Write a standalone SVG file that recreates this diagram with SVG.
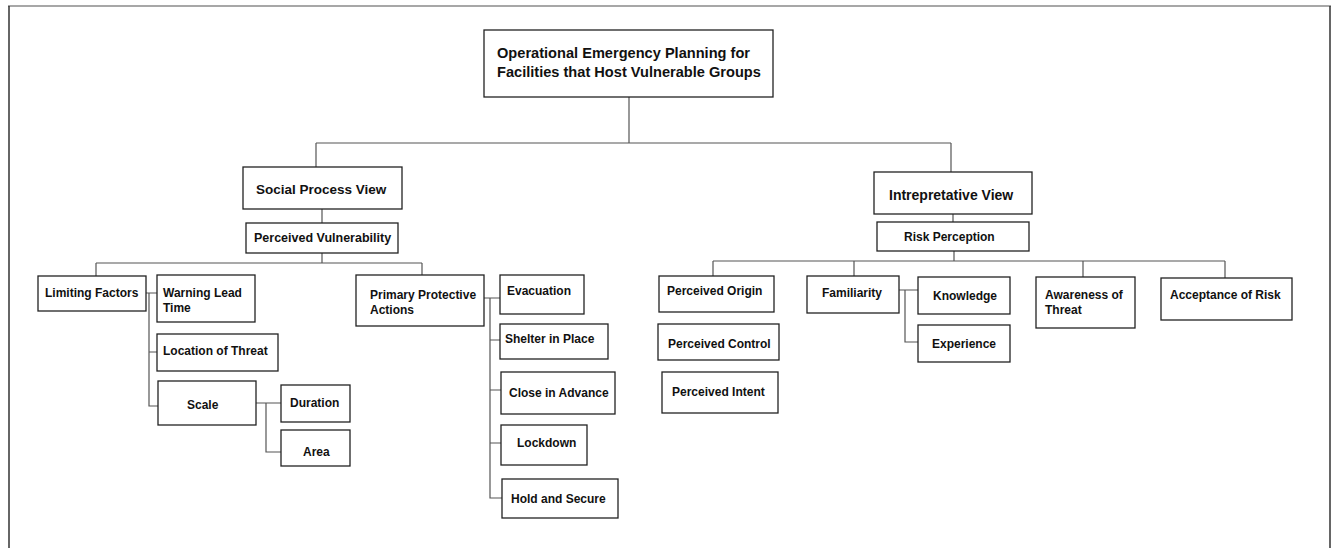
<svg xmlns="http://www.w3.org/2000/svg" width="1334" height="548" viewBox="0 0 1334 548">
  <style>
    .box { fill: #ffffff; stroke: #222222; stroke-width: 1.3; }
    .lbl { font-family: "Liberation Sans", Arial, sans-serif; font-weight: bold; font-size: 12px; fill: #111111; }
    .big { font-size: 14px; }
    .mid { font-size: 13.5px; }
    .sub { font-size: 12.5px; }
    .title { font-size: 14.6px; }
    .conn { fill: none; stroke: #555555; stroke-width: 1.2; }
  </style>
  <rect x="0" y="0" width="1334" height="548" fill="#ffffff"/>
  <!-- outer frame -->
  <g id="frame" fill="none">
    <line x1="8" y1="6" x2="1331" y2="6" stroke="#8a8a8a" stroke-width="1.5"/>
    <line x1="9" y1="6" x2="9" y2="548" stroke="#333333" stroke-width="1.5"/>
    <line x1="1330" y1="6" x2="1330" y2="548" stroke="#333333" stroke-width="1.5"/>
  </g>

  <!-- connectors -->
  <g id="connectors" class="conn">
    <path d="M629 97 V143 M316 143 H951 M316 143 V167 M951 143 V172"/>
    <path d="M322 209 V223 M322 253 V263 M96 263 H422 M96 263 V276 M422 263 V275"/>
    <path d="M146 293 H157 M149 293 V406 H158 M149 352 H157"/>
    <path d="M256 403 H281 M266 403 V452 H281"/>
    <path d="M484 298 H500 M490 298 V498 H502 M490 340 H500 M490 390 H501 M490 443 H501"/>
    <path d="M953 214 V222 M954 251 V261 M713 261 H1225 M713 261 V276 M854 261 V276 M1083 261 V277 M1225 261 V278"/>
    <path d="M899 290 H918 M905 290 V342 H918"/>
  </g>

  <g id="root">
    <rect class="box" x="484" y="30" width="289" height="67"/>
    <text class="lbl title" x="497" y="58">Operational Emergency Planning for</text>
    <text class="lbl title" x="497" y="77">Facilities that Host Vulnerable Groups</text>
  </g>

  <g id="social-process-view">
    <rect class="box" x="243" y="167" width="159" height="42"/>
    <text class="lbl mid" x="256" y="194">Social Process View</text>
  </g>
  <g id="perceived-vulnerability">
    <rect class="box" x="246" y="223" width="152" height="30"/>
    <text class="lbl sub" x="254" y="242">Perceived Vulnerability</text>
  </g>
  <g id="limiting-factors">
    <rect class="box" x="38" y="276" width="108" height="35"/>
    <text class="lbl" x="45" y="297">Limiting Factors</text>
  </g>
  <g id="warning-lead-time">
    <rect class="box" x="157" y="275" width="98" height="47"/>
    <text class="lbl" x="163" y="297">Warning Lead</text>
    <text class="lbl" x="163" y="312">Time</text>
  </g>
  <g id="location-of-threat">
    <rect class="box" x="157" y="334" width="121" height="37"/>
    <text class="lbl" x="163" y="355">Location of Threat</text>
  </g>
  <g id="scale">
    <rect class="box" x="158" y="381" width="98" height="44"/>
    <text class="lbl" x="187" y="409">Scale</text>
  </g>
  <g id="duration">
    <rect class="box" x="281" y="385" width="69" height="37"/>
    <text class="lbl" x="290" y="407">Duration</text>
  </g>
  <g id="area">
    <rect class="box" x="281" y="430" width="69" height="36"/>
    <text class="lbl" x="303" y="456">Area</text>
  </g>
  <g id="primary-protective-actions">
    <rect class="box" x="356" y="275" width="128" height="51"/>
    <text class="lbl" x="370" y="299">Primary Protective</text>
    <text class="lbl" x="370" y="314">Actions</text>
  </g>
  <g id="evacuation">
    <rect class="box" x="500" y="275" width="84" height="39"/>
    <text class="lbl" x="507" y="295">Evacuation</text>
  </g>
  <g id="shelter-in-place">
    <rect class="box" x="500" y="324" width="108" height="35"/>
    <text class="lbl" x="505" y="343">Shelter in Place</text>
  </g>
  <g id="close-in-advance">
    <rect class="box" x="501" y="372" width="114" height="42"/>
    <text class="lbl" x="509" y="397">Close in Advance</text>
  </g>
  <g id="lockdown">
    <rect class="box" x="501" y="425" width="86" height="40"/>
    <text class="lbl" x="517" y="447">Lockdown</text>
  </g>
  <g id="hold-and-secure">
    <rect class="box" x="502" y="479" width="116" height="39"/>
    <text class="lbl" x="511" y="503">Hold and Secure</text>
  </g>

  <g id="interpretative-view">
    <rect class="box" x="874" y="172" width="158" height="42"/>
    <text class="lbl big" x="889" y="200">Intrepretative View</text>
  </g>
  <g id="risk-perception">
    <rect class="box" x="877" y="222" width="152" height="29"/>
    <text class="lbl" x="904" y="241">Risk Perception</text>
  </g>
  <g id="perceived-origin">
    <rect class="box" x="659" y="276" width="115" height="36"/>
    <text class="lbl" x="667" y="295">Perceived Origin</text>
  </g>
  <g id="perceived-control">
    <rect class="box" x="658" y="324" width="121" height="36"/>
    <text class="lbl" x="668" y="348">Perceived Control</text>
  </g>
  <g id="perceived-intent">
    <rect class="box" x="662" y="372" width="116" height="41"/>
    <text class="lbl" x="672" y="396">Perceived Intent</text>
  </g>
  <g id="familiarity">
    <rect class="box" x="807" y="276" width="92" height="37"/>
    <text class="lbl" x="822" y="297">Familiarity</text>
  </g>
  <g id="knowledge">
    <rect class="box" x="918" y="277" width="92" height="37"/>
    <text class="lbl" x="933" y="300">Knowledge</text>
  </g>
  <g id="experience">
    <rect class="box" x="918" y="325" width="92" height="37"/>
    <text class="lbl" x="932" y="348">Experience</text>
  </g>
  <g id="awareness-of-threat">
    <rect class="box" x="1036" y="277" width="99" height="51"/>
    <text class="lbl" x="1045" y="299">Awareness of</text>
    <text class="lbl" x="1045" y="314">Threat</text>
  </g>
  <g id="acceptance-of-risk">
    <rect class="box" x="1161" y="278" width="131" height="42"/>
    <text class="lbl" x="1170" y="299">Acceptance of Risk</text>
  </g>
</svg>
